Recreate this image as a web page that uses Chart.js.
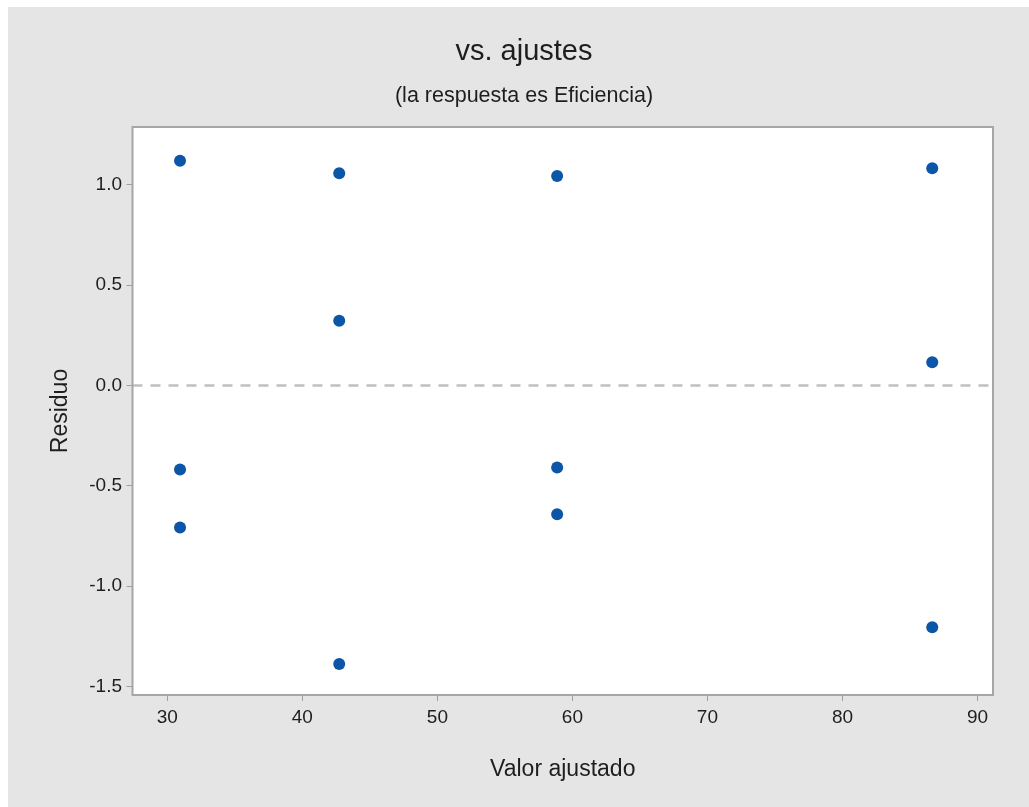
<!DOCTYPE html>
<html lang="es">
<head>
<meta charset="utf-8">
<title>vs. ajustes</title>
<script src="https://cdn.jsdelivr.net/npm/chart.js@4.4.1/dist/chart.umd.min.js"></script>
<style>
    html,
    body {
        margin: 0;
        padding: 0;
        background: #ffffff;
    }
    #residChart {
        display: block;
        margin: 7px 0 0 8px;
        background: #e5e5e5;
    }
</style>
</head>
<body>
<canvas id="residChart" width="1021" height="800"></canvas>
<script>
/**
 * Residual data
 */
const fittedValues = [30.94, 30.94, 30.94, 42.73, 42.73, 42.73, 58.87, 58.87, 58.87, 86.65, 86.65, 86.65];
const residuals = [1.12, -0.418, -0.707, 1.057, 0.323, -1.388, 1.044, -0.408, -0.642, 1.082, 0.116, -1.205];

// Axis ranges and tick steps
const xRange = [27.42, 91.15];
const yRange = [-1.542, 1.288];
const xStep = 10;
const yStep = 0.5;

// Texts
const chartTitle = "vs. ajustes";
const chartSubtitle = "(la respuesta es Eficiencia)";
const xTitle = "Valor ajustado";
const yTitle = "Residuo";

/**
 * Style config
 */
const fontFamily = "'Liberation Sans', Arial, sans-serif";
const textColor = "#1e1e1e";
const tickColor = "#a0a0a0";
const pointColor = "#0b56a6";

// Build the point list from the arrays
const points = fittedValues.map((x, i) => ({ x: x, y: residuals[i] }));

// Zero reference line, spanning the whole x range
const zeroLine = [
    { x: xRange[0], y: 0 },
    { x: xRange[1], y: 0 },
];

/**
 * Plugin: white plot area with a gray frame
 */
const plotFrame = {
    id: "plotFrame",
    beforeDatasetsDraw(chart) {
        const { ctx, chartArea } = chart;
        ctx.save();
        ctx.fillStyle = "#ffffff";
        ctx.fillRect(chartArea.left, chartArea.top, chartArea.width, chartArea.height);
        ctx.restore();
    },
    afterDatasetsDraw(chart) {
        const { ctx, chartArea } = chart;
        ctx.save();
        ctx.strokeStyle = "#a6a6a6";
        ctx.lineWidth = 2;
        ctx.strokeRect(chartArea.left, chartArea.top, chartArea.width, chartArea.height);
        ctx.restore();
    },
};

// Options
const opts = {
    responsive: false,
    animation: false,
    layout: {
        padding: { left: 11, right: 0, top: 0, bottom: 0 },
    },
    scales: {
        x: {
            type: "linear",
            min: xRange[0],
            max: xRange[1],
            afterFit: scale => {
                scale.height = 112;
            },
            border: { display: false },
            grid: {
                drawOnChartArea: false,
                drawTicks: true,
                tickLength: 6,
                color: tickColor,
            },
            ticks: {
                stepSize: xStep,
                includeBounds: false,
                padding: 5,
                color: textColor,
                font: { family: fontFamily, size: 19 },
            },
            title: {
                display: true,
                text: xTitle,
                color: textColor,
                font: { family: fontFamily, size: 23 },
                padding: { top: 0, bottom: 24 },
            },
        },
        y: {
            type: "linear",
            min: yRange[0],
            max: yRange[1],
            afterFit: scale => {
                scale.width = 113.5;
            },
            border: { display: false },
            grid: {
                drawOnChartArea: false,
                drawTicks: true,
                tickLength: 6,
                color: tickColor,
            },
            ticks: {
                stepSize: yStep,
                includeBounds: false,
                padding: 4.5,
                color: textColor,
                font: { family: fontFamily, size: 19 },
                callback: value => value.toFixed(1),
            },
            title: {
                display: true,
                text: yTitle,
                color: textColor,
                font: { family: fontFamily, size: 23 },
                padding: { top: 28, bottom: 0 },
            },
        },
        // Empty right margin, so the titles stay centered on the panel
        yRight: {
            type: "linear",
            position: "right",
            display: true,
            afterFit: scale => {
                scale.width = 36;
            },
            border: { display: false },
            grid: { display: false },
            ticks: { display: false },
        },
    },
    plugins: {
        legend: { display: false },
        tooltip: { enabled: false },
        title: {
            display: true,
            text: chartTitle,
            color: textColor,
            font: { family: fontFamily, size: 29, weight: "normal" },
            padding: { top: 28, bottom: 0 },
        },
        subtitle: {
            display: true,
            text: chartSubtitle,
            color: textColor,
            font: { family: fontFamily, size: 21.5 },
            padding: { top: 13, bottom: 18.4 },
        },
    },
};

// Graph data
const residData = {
    datasets: [
        {
            type: "scatter",
            label: "Residuo",
            data: points,
            pointRadius: 6,
            pointBackgroundColor: pointColor,
            pointBorderWidth: 0,
            order: 1,
        },
        {
            type: "line",
            label: "Cero",
            data: zeroLine,
            borderColor: "#c0c0c0",
            borderWidth: 2.5,
            borderDash: [10, 8],
            pointRadius: 0,
            order: 2,
        },
    ],
};

// Create the chart
const residCanvas = document.getElementById("residChart");
new Chart(residCanvas, { type: "scatter", data: residData, options: opts, plugins: [plotFrame] });
</script>
</body>
</html>
